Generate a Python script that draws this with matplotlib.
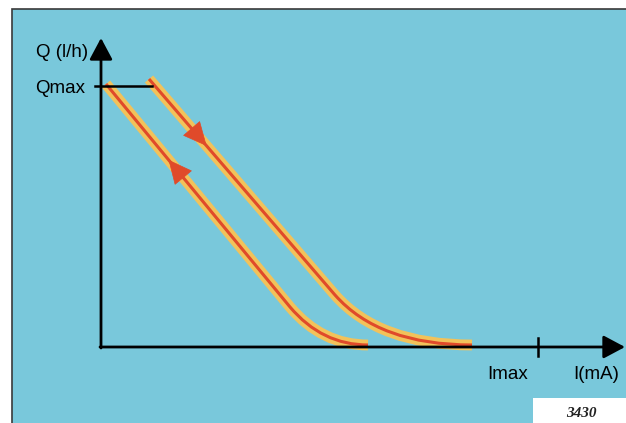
import numpy as np
import matplotlib.pyplot as plt
from matplotlib.path import Path
from matplotlib.patches import PathPatch, Rectangle

# chart units: origin where the two axes cross, 1 unit ~ 1 px
# rising branch (arrow up): straight part, then bend onto the I axis
rise_pts = [(5, 263), (189, 40), (221, 2), (267, 2)]
# falling branch (arrow down): starts at Qmax, shifted to the right
fall_pts = [(48, 268), (234, 52), (278, 2), (371, 2)]
branch_codes = [Path.MOVETO, Path.LINETO, Path.CURVE3, Path.CURVE3]

q_max = 261
i_max = 437
x_axis_end = 524
y_axis_end = 309
qmax_line_x = [-6, 51]

x_labels = {'Imax': (407, -27), 'I(mA)': (495, -27)}
y_labels = {'Q (l/h)': (-13, 295), 'Qmax': (-16, 259)}
fig_number = '3430'

BLUE = '#79c8db'
YELLOW = '#f2c25a'
RED = '#e04a2a'

fig = plt.figure(figsize=(6.26, 4.23), dpi=100)
ax = fig.add_axes([0, 0, 1, 1])
ax.set_xlim(-101, 525)
ax.set_ylim(-76, 347)
ax.axis('off')

# background panel and the white corner box
ax.add_patch(Rectangle((-89, -90), 640, 428, facecolor=BLUE,
                       edgecolor='#3a3a3a', lw=1.2, zorder=0))
ax.add_patch(Rectangle((432, -80), 100, 29, facecolor='white',
                       edgecolor='none', zorder=1))

# axes with arrow heads
head = dict(arrowstyle='-|>,head_length=0.6,head_width=0.32',
            color='black', lw=2.0, mutation_scale=22,
            shrinkA=0, shrinkB=0)
ax.annotate('', xy=(0, y_axis_end), xytext=(0, -1), arrowprops=head,
            zorder=5)
ax.annotate('', xy=(x_axis_end, 0), xytext=(-1, 0), arrowprops=head,
            zorder=5)
ax.plot([i_max, i_max], [-9, 9], color='black', lw=1.8, zorder=5)
ax.plot(qmax_line_x, [q_max, q_max], color='black', lw=1.8, zorder=5)

# the two branches: wide yellow band with thin red core
for pts in (rise_pts, fall_pts):
    path = Path(pts, branch_codes)
    ax.add_patch(PathPatch(path, facecolor='none', edgecolor=YELLOW,
                           lw=7.8, capstyle='butt', zorder=3))
    ax.add_patch(PathPatch(path, facecolor='none', edgecolor=RED,
                           lw=2.2, capstyle='butt', zorder=4))


def direction_arrow(p_from, p_to, frac, length=16):
    p_from = np.array(p_from, float)
    p_to = np.array(p_to, float)
    d = (p_to - p_from) / np.linalg.norm(p_to - p_from)
    tip = p_from + frac * (p_to - p_from)
    ax.annotate('', xy=tip, xytext=tip - d * length,
                arrowprops=dict(arrowstyle='-|>,head_length=0.8,head_width=0.38',
                                color=RED, lw=0.5, mutation_scale=20,
                                shrinkA=0, shrinkB=0),
                zorder=6)


direction_arrow(fall_pts[0], fall_pts[1], 0.31)
direction_arrow(rise_pts[1], rise_pts[0], 0.66)

font = dict(family=['Liberation Sans', 'DejaVu Sans'], fontsize=13.5,
            color='black')
for text, (x, y) in y_labels.items():
    ax.text(x, y, text, ha='right', va='center', **font)
for text, (x, y) in x_labels.items():
    ax.text(x, y, text, ha='center', va='center', **font)

ax.text(480, -66, fig_number, ha='center', va='center',
        family=['Liberation Serif', 'DejaVu Serif'], fontsize=11,
        fontweight='bold', fontstyle='italic', color='#222222', zorder=2)

fig.savefig('out.png', dpi=100)
